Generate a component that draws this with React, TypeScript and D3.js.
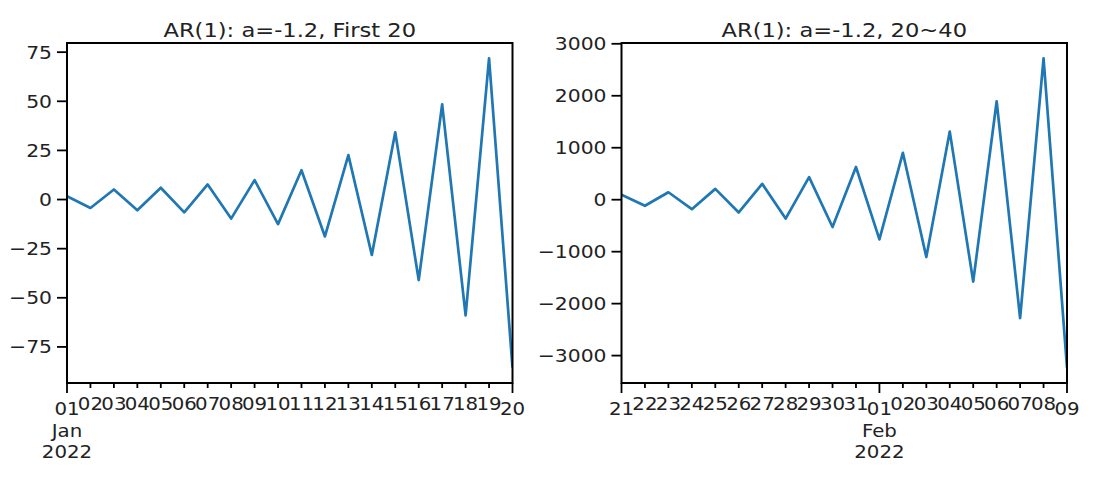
import React from "react";
import * as d3 from "d3";

const leftDates = d3.range(1, 21).map((d) => new Date(2022, 0, d));
const leftValues = [1.7, -4.3, 5.1, -5.5, 6.0, -6.5, 7.7, -9.7, 9.9, -12.5, 14.9, -18.8, 22.6, -28.2, 34.2, -41.0, 48.4, -59.0, 71.8, -85.5];
const leftYTicks = [-75, -50, -25, 0, 25, 50, 75];
const leftMajor = [0, 19];
const leftTitle = "AR(1): a=-1.2, First 20";
const leftOffset = { idx: 0, lines: ["Jan", "2022"] };

const rightDates = d3.range(21, 41).map((d) => new Date(2022, 0, d));
const rightValues = [97, -117, 143, -182, 208, -246, 305, -363, 435, -525, 629, -765, 902, -1103, 1310, -1576, 1894, -2277, 2718, -3230];
const rightYTicks = [-3000, -2000, -1000, 0, 1000, 2000, 3000];
const rightMajor = [0, 11, 19];
const rightTitle = "AR(1): a=-1.2, 20~40";
const rightOffset = { idx: 11, lines: ["Feb", "2022"] };

const FONT = "DejaVu Sans";
const TOP = 43;
const BOTTOM = 383;
const SX = 1.13;

function fmtNum(v: number) {
  return v < 0 ? "\u2212" + Math.abs(v) : String(v);
}

function T({ x, y, size, anchor, children, dy }: any) {
  return (
    <text
      transform={`translate(${x},${y}) scale(${SX},1)`}
      dy={dy || 0}
      textAnchor={anchor || "middle"}
      fontFamily={FONT}
      fontSize={size}
      fill="#222"
    >
      {children}
    </text>
  );
}

function Panel({ x0, x1, dates, values, yTicks, major, title, offset, id }: any) {
  const x = d3.scaleTime().domain([dates[0], dates[dates.length - 1]]).range([x0, x1]);
  const mn = d3.min(values) as number;
  const mx = d3.max(values) as number;
  const pad = (mx - mn) * 0.05;
  const y = d3.scaleLinear().domain([mn - pad, mx + pad]).range([BOTTOM, TOP]);
  const line = d3
    .line<number>()
    .x((_, i) => x(dates[i]))
    .y((d) => y(d));
  const fmtDay = d3.timeFormat("%d");
  return (
    <g>
      <defs>
        <clipPath id={id}>
          <rect x={x0} y={TOP} width={x1 - x0} height={BOTTOM - TOP} />
        </clipPath>
      </defs>
      <path d={line(values) || ""} fill="none" stroke="#1f77b4" strokeWidth={2.7} clipPath={`url(#${id})`} strokeLinejoin="round" />
      <rect x={x0} y={TOP} width={x1 - x0} height={BOTTOM - TOP} fill="none" stroke="#000" strokeWidth={2} />
      {yTicks.map((t: number) => (
        <g key={t}>
          <line x1={x0 - 10} x2={x0} y1={y(t)} y2={y(t)} stroke="#000" strokeWidth={1.8} />
          <T x={x0 - 15} y={y(t)} dy="0.36em" size={18} anchor="end">
            {fmtNum(t)}
          </T>
        </g>
      ))}
      {dates.map((d: Date, i: number) => {
        const isMajor = major.includes(i);
        const px = x(d);
        return (
          <g key={i}>
            <line x1={px} x2={px} y1={BOTTOM} y2={BOTTOM + (isMajor ? 10 : 5)} stroke="#000" strokeWidth={1.8} />
            <T x={px} y={isMajor ? 415 : 410} size={17.5}>
              {fmtDay(d)}
            </T>
          </g>
        );
      })}
      {offset.lines.map((s: string, k: number) => (
        <T key={k} x={x(dates[offset.idx])} y={437 + k * 21} size={17.5}>
          {s}
        </T>
      ))}
      <T x={(x0 + x1) / 2} y={36.5} size={20}>
        {title}
      </T>
    </g>
  );
}

export default function App() {
  return (
    <svg width={1094} height={478} style={{ display: "block", position: "absolute", left: 0, top: 0, background: "#fff" }}>
      <rect width={1094} height={478} fill="#fff" />
      <Panel x0={67} x1={512.5} dates={leftDates} values={leftValues} yTicks={leftYTicks} major={leftMajor} title={leftTitle} offset={leftOffset} id="clipL" />
      <Panel x0={621.5} x1={1067} dates={rightDates} values={rightValues} yTicks={rightYTicks} major={rightMajor} title={rightTitle} offset={rightOffset} id="clipR" />
    </svg>
  );
}
